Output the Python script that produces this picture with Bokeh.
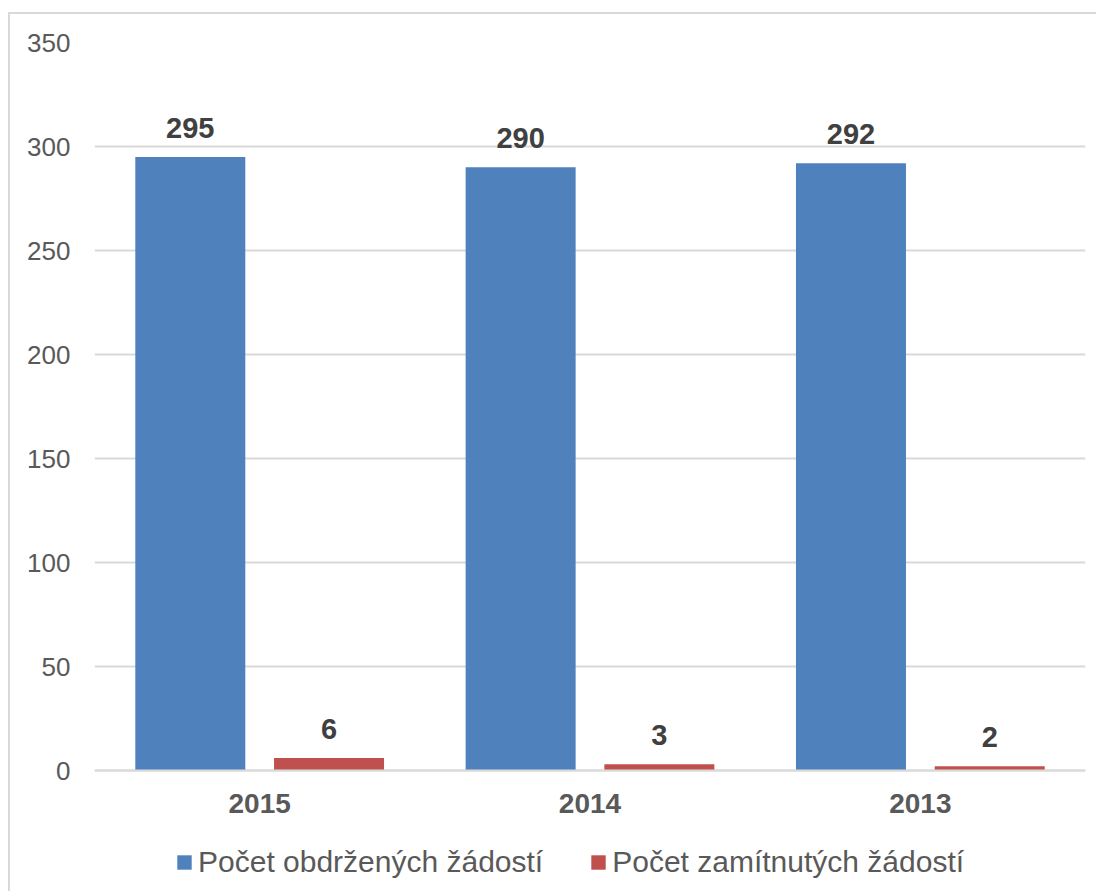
from bokeh.plotting import figure
from bokeh.models import (ColumnDataSource, FactorRange, Range1d, FixedTicker,
                          LabelSet, Legend, LegendItem)
from bokeh.core.properties import value
from bokeh.transform import dodge
from bokeh.embed import file_html
from bokeh.resources import INLINE

years = ["2015", "2014", "2013"]
received = [295, 290, 292]
rejected = [6, 3, 2]
series_names = ["Počet obdržených žádostí", "Počet zamítnutých žádostí"]
y_ticks = [0, 50, 100, 150, 200, 250, 300, 350]

BLUE = "#4F81BD"
RED = "#C0504D"
FONT = "Liberation Sans"

# layout: 728 px for 0..350, frame continues 121 px below the zero line
PX_PER_UNIT = 728 / 350
Y_START = -121 / PX_PER_UNIT

src = ColumnDataSource(dict(
    years=years,
    received=received,
    rejected=rejected,
    received_txt=[str(v) for v in received],
    rejected_txt=[str(v) for v in rejected],
))

p = figure(x_range=FactorRange(*years), y_range=Range1d(Y_START, 350),
           frame_width=991, frame_height=849, output_backend="svg", toolbar_location=None,
           min_border_left=84, min_border_right=11, min_border_top=28,
           min_border_bottom=0)
p.margin = (12, 0, 0, 8)
p.styles = {"border-top": "2px solid #d9d9d9", "border-left": "2px solid #d9d9d9"}
p.outline_line_color = None
p.background_fill_color = "white"
p.border_fill_color = "white"

r1 = p.vbar(x=dodge("years", -0.21, range=p.x_range), top="received", bottom=0, width=0.333,
            source=src, fill_color=BLUE, line_color=None)
r2 = p.vbar(x=dodge("years", 0.21, range=p.x_range), top="rejected", bottom=0, width=0.333,
            source=src, fill_color=RED, line_color=None)

for col, txt, off in (("received", "received_txt", -0.21), ("rejected", "rejected_txt", 0.21)):
    p.add_layout(LabelSet(x=dodge("years", off, range=p.x_range), y=col, text=txt,
                          source=src, text_align="center", text_baseline="alphabetic",
                          y_offset=19, text_font=value(FONT), text_font_size=value("29px"),
                          text_font_style="bold", text_color="#404040"))

# axes
p.yaxis.ticker = FixedTicker(ticks=y_ticks)
p.yaxis.axis_line_color = None
p.yaxis.major_tick_line_color = None
p.yaxis.minor_tick_line_color = None
p.yaxis.major_label_text_font = FONT
p.yaxis.major_label_text_font_size = "26px"
p.yaxis.major_label_text_color = "#595959"
p.yaxis.major_label_standoff = 18

p.xaxis.fixed_location = 0
p.xaxis.axis_line_color = "#d9d9d9"
p.xaxis.axis_line_width = 2
p.xaxis.major_tick_line_color = None
p.xaxis.minor_tick_line_color = None
p.xaxis.major_tick_out = 0
p.xaxis.major_tick_in = 0
p.xaxis.major_label_text_font = FONT
p.xaxis.major_label_text_font_size = "28px"
p.xaxis.major_label_text_font_style = "bold"
p.xaxis.major_label_text_color = "#595959"
p.xaxis.major_label_standoff = 23

p.xgrid.grid_line_color = None
p.ygrid.grid_line_color = "#d9d9d9"
p.ygrid.grid_line_width = 2

legend = Legend(items=[LegendItem(label=series_names[0], renderers=[r1]),
                       LegendItem(label=series_names[1], renderers=[r2])],
                location=(81, 12), orientation="horizontal",
                glyph_width=18, glyph_height=18, label_standoff=5, spacing=46,
                padding=0, margin=0, border_line_color=None,
                background_fill_alpha=0,
                label_text_font=FONT, label_text_font_size="30px",
                label_text_color="#595959")
p.add_layout(legend, "center")

open("out.html", "w").write(file_html(p, INLINE))
